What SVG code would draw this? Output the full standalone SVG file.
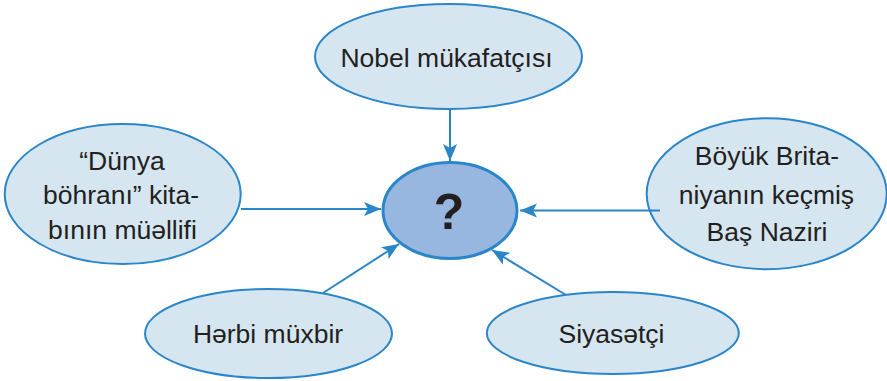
<svg xmlns="http://www.w3.org/2000/svg" width="887" height="381" viewBox="0 0 887 381">
<style>
.n{fill:#d6e6f0;stroke:#2a86c8;stroke-width:2}
.t{font-family:"Liberation Sans",Arial,sans-serif;font-size:26.5px;fill:#231f20;text-anchor:middle}
.c{stroke:#2a86c8;stroke-width:2;fill:none;marker-end:url(#a)}
</style>
<defs><marker id="a" markerUnits="userSpaceOnUse" markerWidth="18" markerHeight="16" refX="17" refY="8" orient="auto"><path d="M0 1L17 8L0 15L4 8Z" fill="#2a86c8"/></marker></defs>
<g id="n1"><ellipse class="n" cx="448.5" cy="56.5" rx="133.5" ry="52.5"/><text class="t" x="446.5" y="66.7">Nobel mükafatçısı</text></g>
<g id="n2"><ellipse class="n" cx="122.7" cy="194" rx="118" ry="70"/><text class="t" x="122" y="169.5">“Dünya</text><text class="t" x="121" y="203.5">böhranı” kita-</text><text class="t" x="122.5" y="239">bının müəllifi</text></g>
<g id="n3"><ellipse class="n" cx="766.7" cy="193.7" rx="120" ry="75.5"/><text class="t" x="767" y="165">Böyük Brita-</text><text class="t" x="766.5" y="204">niyanın keçmiş</text><text class="t" x="767" y="240.5">Baş Naziri</text></g>
<g id="n4"><ellipse class="n" cx="268.5" cy="333.5" rx="123.5" ry="44.5"/><text class="t" x="268" y="342.7">Hərbi müxbir</text></g>
<g id="n5"><ellipse class="n" cx="612.8" cy="333" rx="126" ry="41"/><text class="t" x="611.5" y="342.5">Siyasətçi</text></g>
<g id="center"><ellipse cx="450" cy="210.5" rx="67" ry="48" fill="#97b6e0" stroke="#2a86c8" stroke-width="3"/><text x="449" y="229" font-family="Liberation Sans,Arial,sans-serif" font-size="50" font-weight="bold" fill="#231f20" text-anchor="middle">?</text></g>
<g id="connectors">
<path class="c" d="M450 109V161"/>
<path class="c" d="M241 209H381"/>
<path class="c" d="M660 210.5H520"/>
<path class="c" d="M323 293L399 244"/>
<path class="c" d="M566 295L492 250"/>
</g>
</svg>
